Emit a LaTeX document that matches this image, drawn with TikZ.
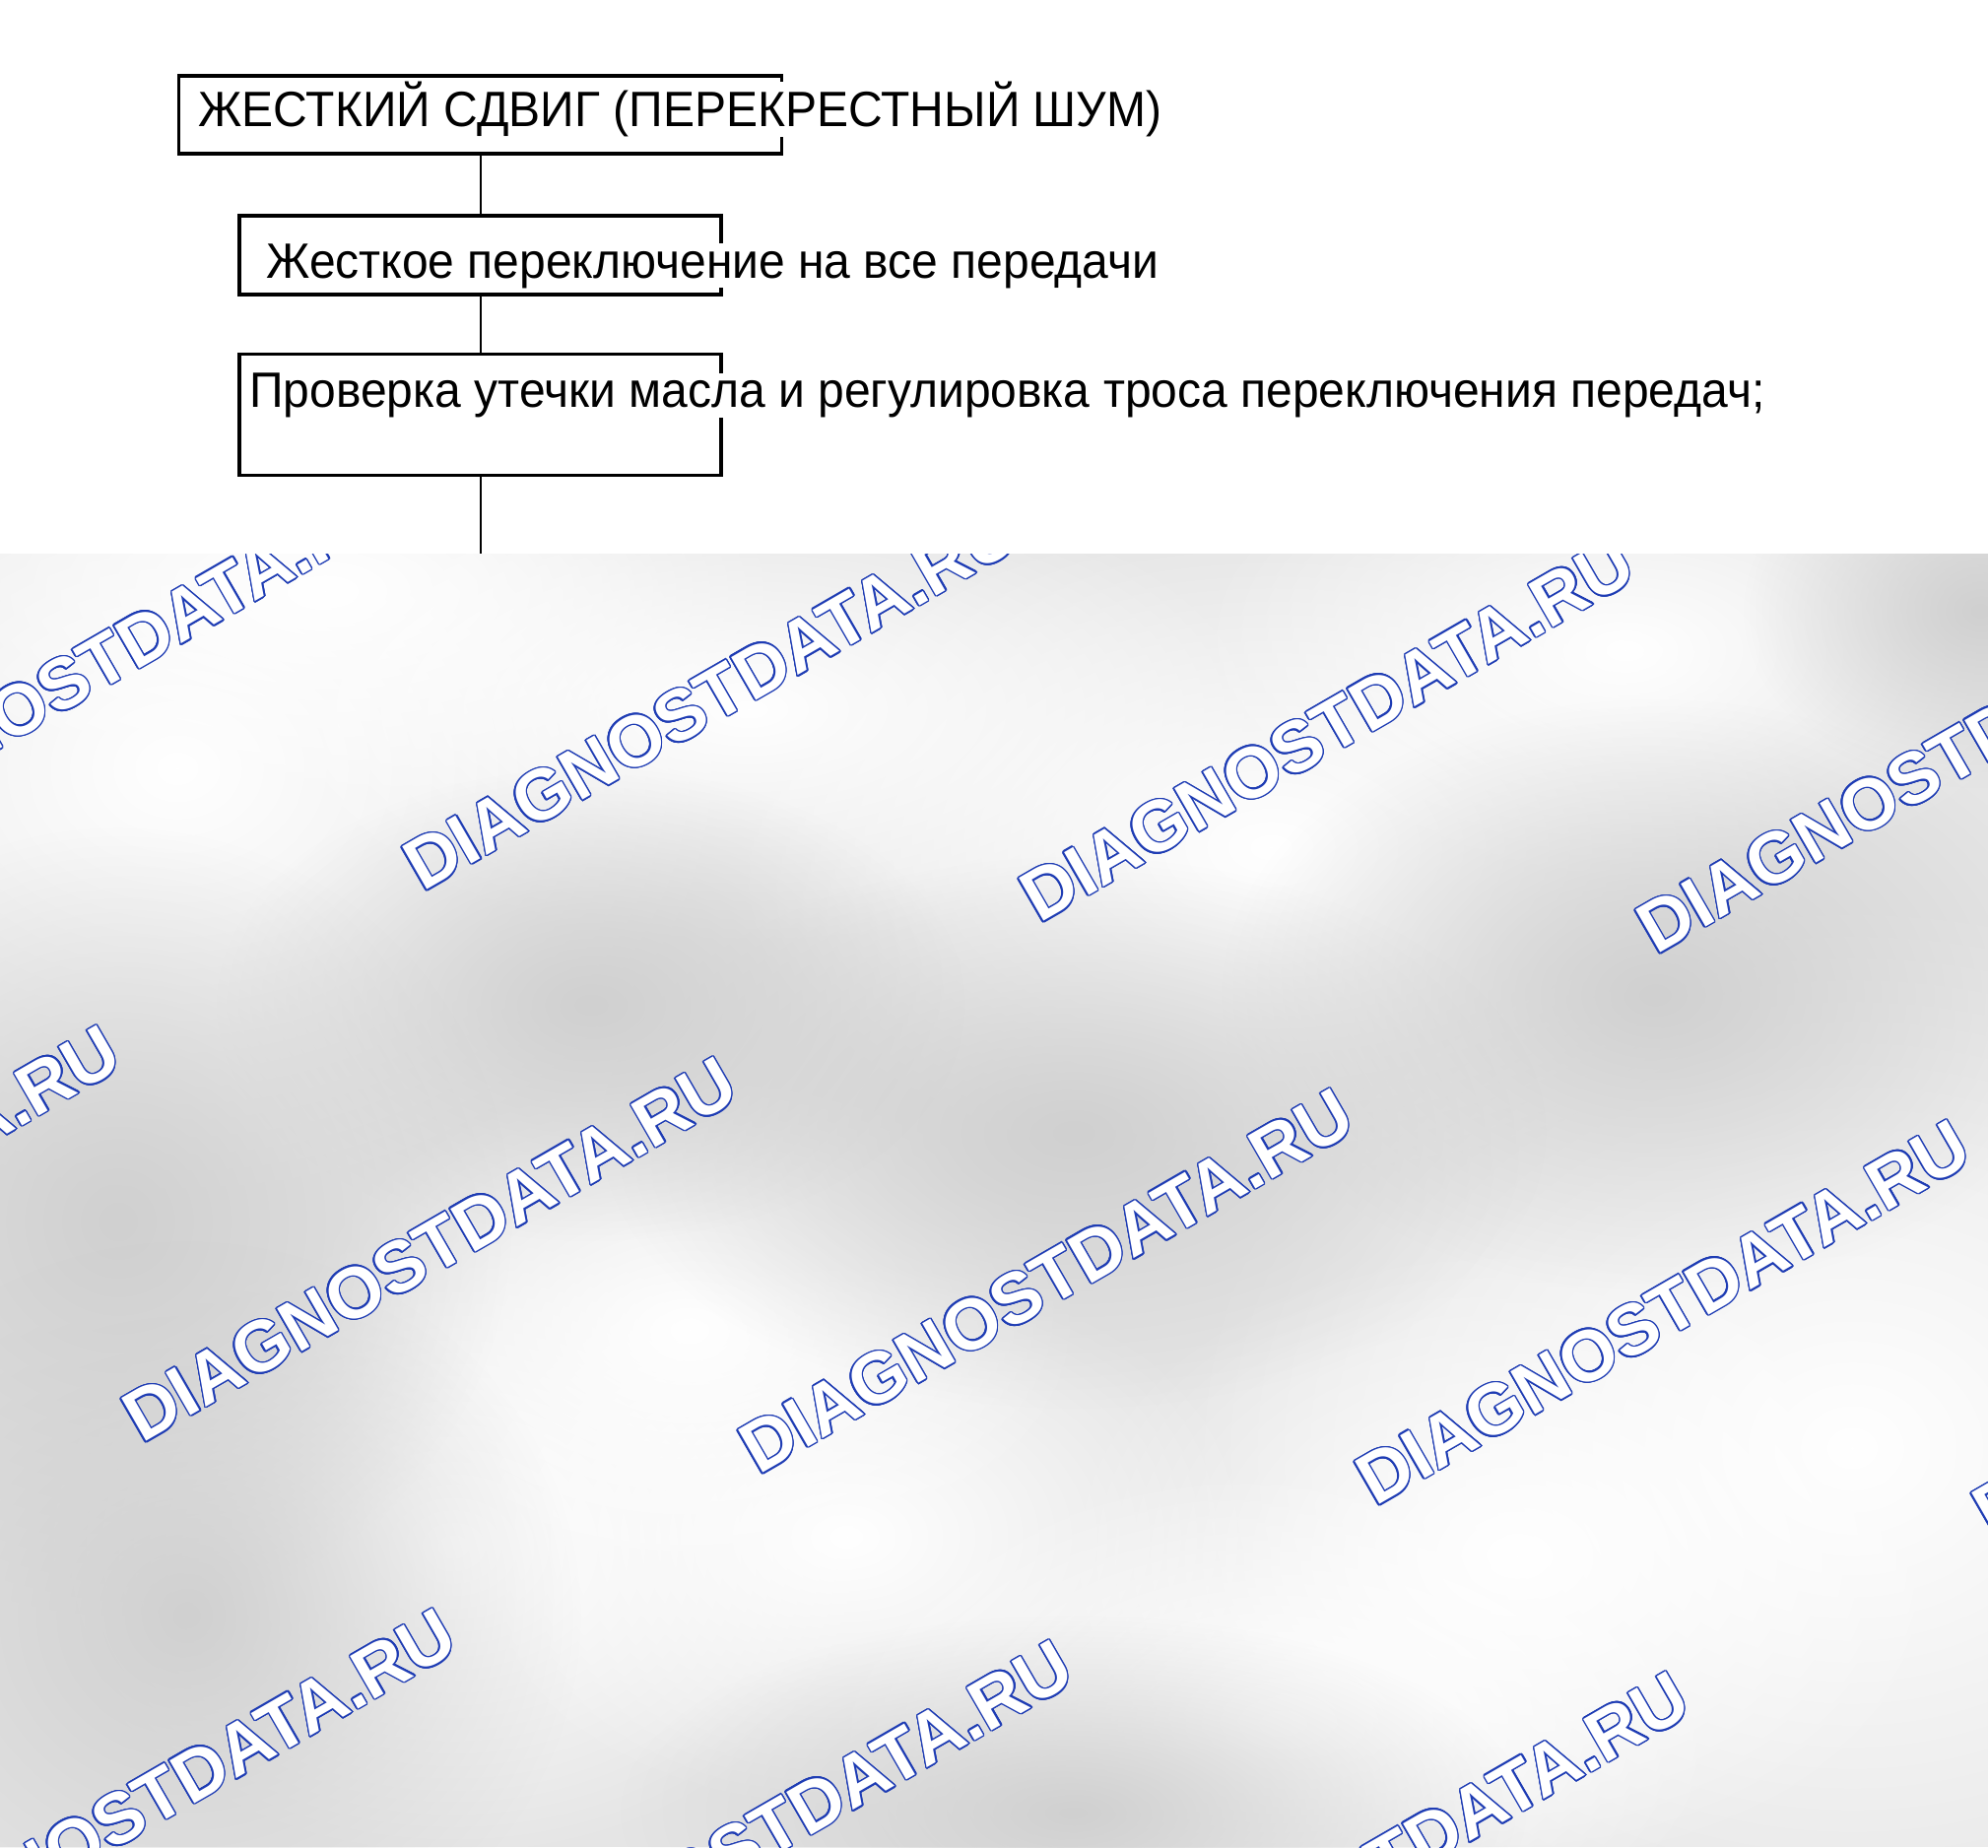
\documentclass[tikz,border=0pt]{standalone}
\usepackage{fontspec}
\setmainfont{Liberation Sans}
\newfontfamily\wmfont{Liberation Sans Bold}
\usetikzlibrary{fadings}
\definecolor{bggray}{RGB}{229,229,229}
\definecolor{darkblob}{RGB}{208,208,208}
\definecolor{wmblue}{RGB}{30,60,180}
\tikzfading[name=blobfade, inner color=transparent!0, outer color=transparent!100]
\tikzset{
  flowbox/.style={draw=black, line width=1.8pt, inner sep=0pt, fill=none},
  conn/.style={draw=black, line width=1pt},
  lbl/.style={anchor=base west, inner sep=0pt, fill=white, font=\fontsize{25.2}{30}\selectfont},
  wmtext/.style={anchor=base west, rotate=30, inner sep=0pt, font=\wmfont\fontsize{36.5}{40}\selectfont},
  whiteblob/.style={fill=white, path fading=blobfade},
  grayblob/.style={fill=darkblob, path fading=blobfade}
}
\begin{document}
\begin{tikzpicture}[x=0.5pt,y=-0.5pt]
\useasboundingbox (0,0) rectangle (2018,1875);
\fill[white] (0,0) rectangle (2018,562);
\begin{scope}
  \clip (0,562) rectangle (2018,1875);
  \fill[bggray] (0,562) rectangle (2018,1875);
  % light areas
  \fill[whiteblob] (180,780) ellipse (560 and 440);
  \fill[whiteblob] (330,600) ellipse (460 and 220);
  \fill[whiteblob] (760,720) ellipse (520 and 240);
  \fill[whiteblob] (1290,860) ellipse (560 and 340);
  \fill[whiteblob] (1650,660) ellipse (440 and 240);
  \fill[whiteblob] (1880,1470) ellipse (680 and 560);
  \fill[whiteblob] (1540,1580) ellipse (460 and 320);
  \fill[whiteblob] (460,1570) ellipse (420 and 320);
  \fill[whiteblob] (860,1560) ellipse (420 and 280);
  \fill[whiteblob] (1300,1750) ellipse (460 and 260);
  \fill[whiteblob] (700,1350) ellipse (400 and 260);
  % darker areas
  \fill[grayblob] (1680,1010) ellipse (440 and 300);
  \fill[grayblob] (1090,1150) ellipse (480 and 280);
  \fill[grayblob] (600,1020) ellipse (380 and 240);
  \fill[grayblob] (120,1240) ellipse (400 and 400);
  \fill[grayblob] (190,1640) ellipse (400 and 380);
  \fill[grayblob] (1090,1840) ellipse (460 and 200);
  \fill[grayblob] (2010,620) ellipse (240 and 180);
  % watermarks
  \foreach \wx/\wy [count=\k] in {-197/874, 429/906, 1055/938, 1681/970,
      -482/1434, 144/1466, 770/1498, 1396/1530, 2022/1562,
      -141/2026, 485/2058, 1111/2090}{
    \foreach \ang in {0,22.5,...,337.5}{
      \node[wmtext, text=wmblue, xshift={0.75pt*cos(\ang)}, yshift={0.75pt*sin(\ang)}] at (\wx,\wy) {DIAGNOSTDATA.RU};
    }
    \node[wmtext, text=white] (wm\k) at (\wx,\wy) {DIAGNOSTDATA.RU};
  }
\end{scope}
% flowchart
\node[flowbox, minimum width=306pt, minimum height=39.5pt] (b1) at (487.5,116.5) {};
\node[flowbox, minimum width=244.5pt, minimum height=40pt] (b2) at (487.5,259) {};
\node[flowbox, minimum width=244.5pt, minimum height=61.5pt] (b3) at (487.5,421) {};
\coordinate (endpt) at (487.5,562);
\draw[conn] (b1.south) -- (b2.north);
\draw[conn] (b2.south) -- (b3.north);
\draw[conn] (b3.south) -- (endpt);
\node[lbl] (t1) at (201,128.5) {\resizebox{489pt}{\height}{ЖЕСТКИЙ СДВИГ (ПЕРЕКРЕСТНЫЙ ШУМ)}};
\node[lbl] (t2) at (270,282) {\resizebox{453pt}{\height}{Жесткое переключение на все передачи}};
\node[lbl] (t3) at (253,413.5) {\resizebox{769pt}{\height}{Проверка утечки масла и регулировка троса переключения передач;}};
\end{tikzpicture}
\end{document}
